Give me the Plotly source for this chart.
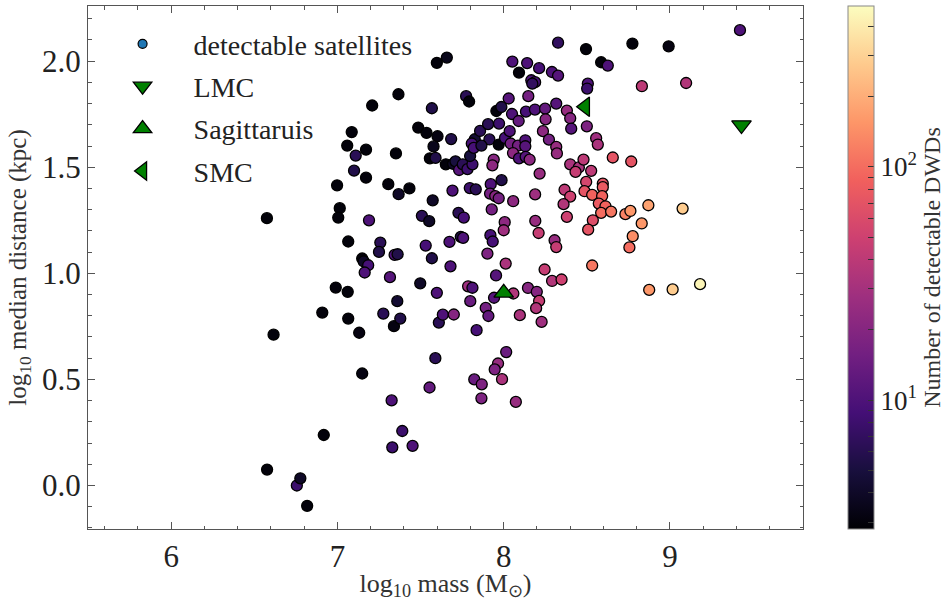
import numpy as np
import plotly.graph_objects as go

# ---- data ----
log_mass = [6.577, 6.616, 6.576, 6.756, 6.777, 6.818, 6.909, 6.918, 6.990, 7.062,
            7.065, 7.131, 7.149, 7.276, 7.326, 7.330, 7.340, 7.360, 7.378, 7.390,
            7.452, 7.498, 7.554, 7.589, 7.598, 7.610, 7.634, 7.700, 7.786, 7.799,
            7.316, 7.014, 7.005, 7.190, 7.368, 7.065, 7.258, 7.250, 7.344, 7.362,
            7.149, 7.158, 7.185, 7.164, 7.367, 7.209, 7.086, 7.059, 7.172, 7.110,
            7.352, 7.100, 7.172, 6.998, 7.306, 7.433, 7.598, 7.658, 7.568, 7.774,
            7.792, 7.486, 7.536, 7.602, 7.684, 7.578, 7.556, 7.590, 7.652, 7.696,
            7.710, 7.732, 7.754, 7.782, 7.812, 7.798, 7.826, 7.858, 7.906, 7.972,
            7.956, 7.986, 8.030, 8.050, 8.090, 8.134, 8.148, 8.188, 8.249, 8.252,
            8.236, 8.272, 8.316, 8.327, 8.052, 8.141, 8.092, 8.213, 8.166, 8.189,
            8.172, 8.290, 8.327, 7.914, 7.808, 7.820, 7.866, 7.970, 8.008, 8.036,
            8.042, 8.086, 8.130, 8.130, 8.056, 8.092, 8.132, 8.156, 7.940, 7.932,
            8.216, 8.316, 8.320, 7.987, 7.922, 7.692, 7.796, 7.832, 7.573, 7.918,
            7.949, 7.970, 8.189, 8.057, 8.495, 8.774, 8.992, 8.586, 8.626, 8.506,
            8.502, 8.831, 9.097, 8.380, 8.400, 8.406, 8.500, 8.556, 8.566, 8.656,
            8.767, 8.400, 8.452, 8.432, 8.480, 8.526, 8.496, 8.596, 8.596, 8.366,
            8.400, 8.486, 8.532, 8.592, 8.360, 8.380, 8.572, 8.612, 8.586, 8.646,
            8.536, 8.508, 8.732, 8.762, 8.870, 9.076, 8.830, 8.776, 8.756, 8.306,
            8.316, 8.532, 8.291, 8.348, 8.875, 9.016, 9.181, 7.508, 7.552, 7.728,
            7.760, 7.928, 8.006, 8.000, 8.190, 8.210, 7.531, 7.674, 7.742, 7.756,
            7.920, 7.934, 7.568, 7.680, 7.902, 8.012, 8.246, 7.954, 7.812, 7.942,
            8.058, 8.146, 8.199, 8.213, 8.195, 8.097, 8.228, 7.892, 7.908, 7.837,
            8.015, 7.966, 7.946, 7.823, 7.868, 7.990, 7.866, 8.073, 9.421]

log_dist = [0.075, 0.711, 1.260, 0.000, 0.034, -0.096, 0.815, 0.238, 0.933, 0.913,
            0.787, 0.720, 0.528, 0.810, 0.401, 0.180, 0.751, 0.869, 0.787, 0.257,
            0.187, 0.953, 0.462, 0.600, 0.908, 0.768, 0.805, 0.806, 0.939, 0.869,
            0.982, 1.307, 1.263, 1.250, 1.373, 1.150, 1.145, 1.101, 1.087, 1.090,
            1.070, 1.056, 1.038, 1.004, 1.844, 1.791, 1.666, 1.602, 1.583, 1.555,
            1.565, 1.484, 1.451, 1.415, 1.420, 1.400, 1.992, 2.017, 1.778, 1.835,
            1.810, 1.687, 1.662, 1.646, 1.633, 1.598, 1.542, 1.544, 1.514, 1.516,
            1.528, 1.487, 1.514, 1.491, 1.514, 1.553, 1.632, 1.671, 1.703, 1.706,
            1.765, 1.784, 1.824, 1.751, 1.718, 1.762, 1.835, 1.772, 1.776, 1.726,
            1.670, 1.630, 1.800, 2.087, 1.998, 1.991, 1.946, 1.967, 1.910, 1.901,
            1.894, 1.949, 1.932, 1.631, 1.612, 1.591, 1.602, 1.607, 1.638, 1.670,
            1.612, 1.602, 1.627, 1.599, 1.567, 1.542, 1.549, 1.536, 1.536, 1.509,
            1.470, 1.596, 1.565, 1.439, 1.420, 1.390, 1.402, 1.396, 1.344, 1.376,
            1.364, 1.354, 1.372, 1.340, 2.057, 2.083, 2.070, 1.995, 1.979, 1.894,
            1.871, 1.882, 1.897, 1.767, 1.731, 1.682, 1.693, 1.637, 1.607, 1.546,
            1.527, 1.514, 1.499, 1.478, 1.536, 1.483, 1.431, 1.423, 1.406, 1.394,
            1.362, 1.387, 1.370, 1.364, 1.326, 1.266, 1.329, 1.316, 1.285, 1.291,
            1.250, 1.206, 1.279, 1.294, 1.321, 1.305, 1.235, 1.175, 1.122, 1.156,
            1.124, 1.037, 0.964, 0.971, 0.922, 0.924, 0.949, 1.271, 1.246, 1.285,
            1.263, 1.301, 1.241, 1.203, 1.247, 1.190, 1.131, 1.148, 1.172, 1.167,
            1.180, 1.150, 1.071, 1.033, 1.093, 1.046, 1.018, 0.990, 0.932, 0.885,
            0.905, 0.931, 0.913, 0.870, 0.836, 0.803, 0.771, 0.837, 0.799, 0.732,
            0.629, 0.575, 0.547, 0.500, 0.477, 0.501, 0.411, 0.394, 2.146]

n_dwds = [3, 3, 3, 8, 4, 3, 3, 3, 3, 3,
          3, 3.2, 3.2, 6.3, 10, 8, 3.2, 4.5, 5.6, 8,
          10, 4, 13, 6.3, 10, 6.3, 10, 20, 28, 14,
          11, 3, 3, 10, 4, 3, 6.3, 5.6, 10, 5.6,
          3, 4, 9, 10, 3, 3, 3, 3, 3, 6.3,
          3, 5.6, 3, 3, 3, 3, 3, 3.5, 5.6, 6.3,
          3, 3, 3, 3.2, 5.6, 3.5, 3, 5.6, 3, 4,
          5, 11, 6.3, 8, 8, 5, 4.5, 6.3, 6.3, 8,
          3, 5.6, 11, 10, 13, 9, 16, 10, 13, 20,
          22, 16, 11, 7, 10, 10, 3, 9, 10, 9,
          7, 10, 11, 6.3, 9, 9, 5.6, 3, 9, 10,
          16, 16, 10, 11, 22, 10, 11, 22, 20, 22,
          25, 25, 25, 5.6, 10, 10, 8, 6.3, 4, 16,
          20, 16, 28, 22, 3, 3, 3.2, 3, 10, 10,
          8, 40, 35, 25, 20, 11, 18, 28, 32, 71,
          71, 32, 32, 45, 40, 40, 56, 71, 79, 40,
          50, 71, 89, 89, 35, 50, 79, 89, 100, 112,
          63, 71, 126, 158, 178, 282, 158, 141, 100, 25,
          45, 112, 35, 50, 158, 282, 447, 6.3, 4, 6.3,
          9, 16, 22, 28, 25, 45, 9, 10, 5.6, 10,
          9, 9, 5.6, 10, 18, 32, 45, 11, 10, 11,
          35, 20, 20, 45, 35, 32, 28, 16, 13, 9,
          14, 25, 18, 14, 18, 32, 18, 25, 10]

named_galaxies = ["LMC", "Sagittaruis", "SMC"]
named_mass = [9.43, 8.00, 8.49]
named_dist = [1.699, 0.908, 1.785]
named_symbols = ["triangle-down", "triangle-up", "triangle-left"]

cbar_min, cbar_max = 2.8, 490
cbar_major = [10, 100]
cbar_minor = [3, 4, 5, 6, 7, 8, 9, 20, 30, 40, 50, 60, 70, 80, 90, 200, 300, 400]

FONT = "Liberation Serif"

fig = go.Figure()

cvals = np.log10(np.array(n_dwds, dtype=float))
tickvals = [float(np.log10(v)) for v in cbar_major + cbar_minor]
ticktext = ["10<sup>1</sup>", "10<sup>2</sup>"] + [""] * len(cbar_minor)

fig.add_trace(go.Scatter(
    x=log_mass, y=log_dist, mode="markers", showlegend=False,
    marker=dict(size=11, color=cvals, colorscale="Magma",
                cmin=float(np.log10(cbar_min)), cmax=float(np.log10(cbar_max)),
                line=dict(color="black", width=1.3),
                colorbar=dict(
                    x=1.0625, xanchor="left", xref="paper", xpad=0, ypad=0,
                    y=0.5, yanchor="middle", len=1.0, lenmode="fraction",
                    thickness=26, outlinewidth=1, outlinecolor="#888",
                    ticks="inside", ticklen=6, tickcolor="#333",
                    tickvals=tickvals, ticktext=ticktext,
                    tickfont=dict(family=FONT, size=27, color="#222"),
                    title=dict(text="Number of detectable DWDs", side="right",
                               font=dict(family=FONT, size=24, color="#333")),
                )),
))

# legend proxy for the colour-mapped points
fig.add_trace(go.Scatter(
    x=[None], y=[None], mode="markers", name="detectable satellites",
    legendgroup="g0",
    marker=dict(size=9, color="#1f77b4", line=dict(color="black", width=1.2)),
))

for i, (name, xm, yd, sym) in enumerate(zip(named_galaxies, named_mass, named_dist, named_symbols)):
    fig.add_trace(go.Scatter(
        x=[xm], y=[yd], mode="markers", name=name, legendgroup=f"g{i+1}",
        marker=dict(size=17, symbol=sym, color="green",
                    line=dict(color="black", width=1.3)),
    ))

axis_common = dict(
    showline=True, linecolor="#555", linewidth=1, mirror="allticks",
    ticks="inside", ticklen=7, tickcolor="#555", showgrid=False, zeroline=False,
    tickfont=dict(family=FONT, size=31, color="#222"),
)

fig.update_xaxes(
    range=[5.5, 9.8], tick0=0, dtick=1,
    minor=dict(ticks="inside", dtick=0.2, tick0=0, ticklen=3.5, tickcolor="#555", showgrid=False),
    title=dict(text="log<sub>10</sub> mass (M<sub>⊙</sub>)", standoff=12,
               font=dict(family=FONT, size=26, color="#333")),
    **axis_common,
)
fig.update_yaxes(
    range=[-0.205, 2.26], tick0=0, dtick=0.5, tickformat=".1f",
    minor=dict(ticks="inside", dtick=0.1, tick0=0, ticklen=3.5, tickcolor="#555", showgrid=False),
    title=dict(text="log<sub>10</sub> median distance (kpc)", standoff=8,
               font=dict(family=FONT, size=25, color="#333")),
    **axis_common,
)

fig.update_layout(
    width=949, height=601,
    margin=dict(l=88, r=146, t=6, b=72, autoexpand=False),
    plot_bgcolor="white", paper_bgcolor="white",
    font=dict(family=FONT, color="#222"),
    legend=dict(x=0.005, y=0.975, xanchor="left", yanchor="top",
                bgcolor="rgba(0,0,0,0)", itemwidth=92, tracegroupgap=3,
                font=dict(family=FONT, size=28, color="#222")),
)

fig.write_html("out.html")
